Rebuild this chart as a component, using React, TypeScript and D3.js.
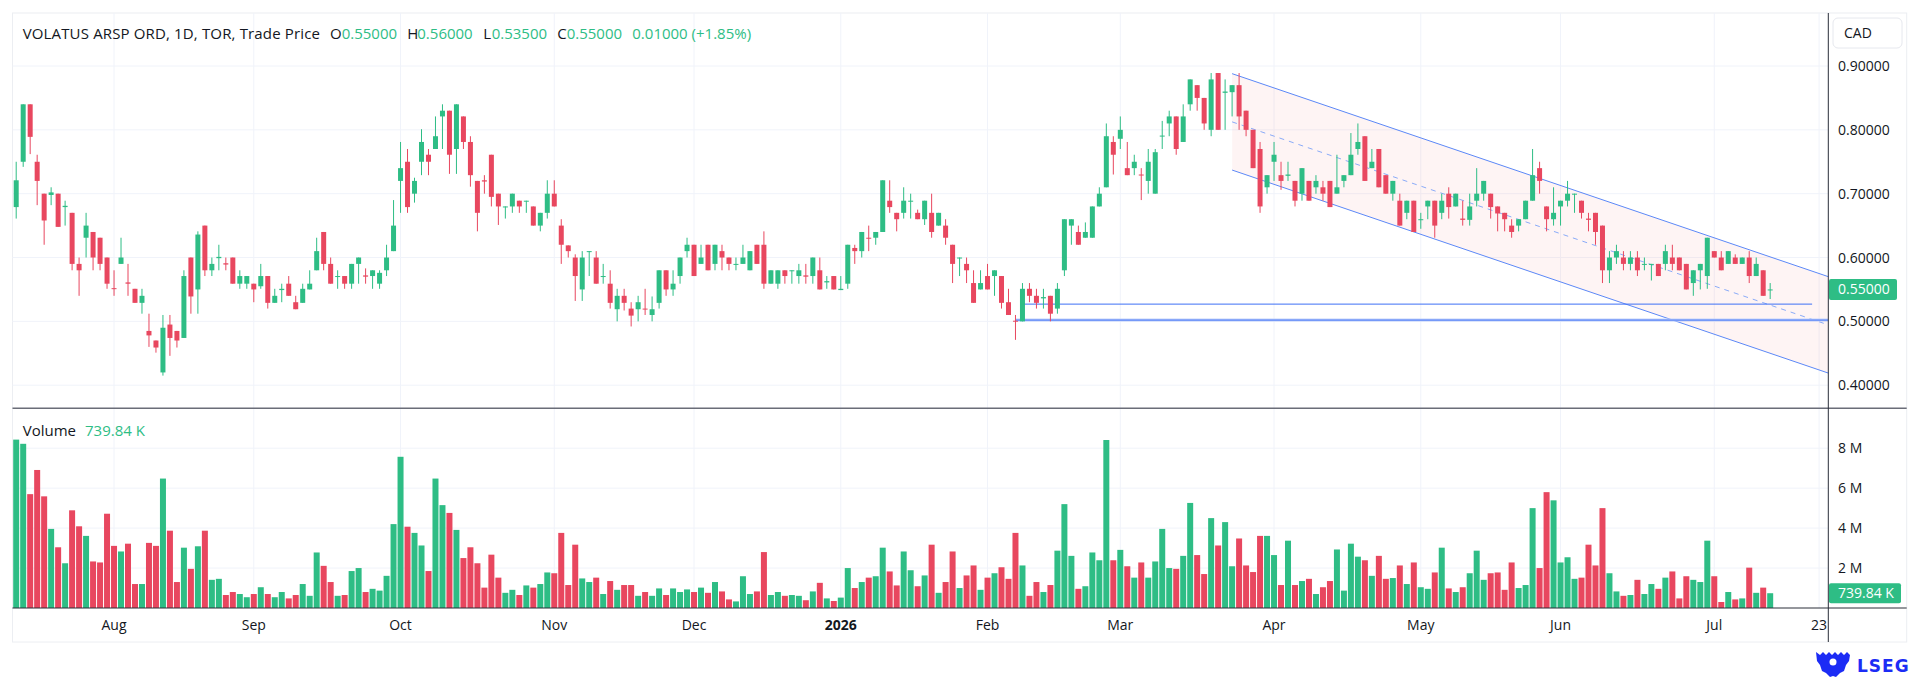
import React from "react";
import * as d3 from "d3";

// ---------- DATA ----------
const opens = [
  0.679, 0.75, 0.84, 0.75, 0.7, 0.698, 0.7, 0.679, 0.67, 0.59, 0.631, 0.64, 0.631, 0.6, 0.552, 0.59, 0.561, 0.551, 0.529, 0.485,
  0.47, 0.42, 0.495, 0.485, 0.474, 0.6, 0.55, 0.65, 0.58, 0.599, 0.591, 0.6, 0.559, 0.559, 0.559, 0.555, 0.571, 0.529, 0.549, 0.559,
  0.53, 0.529, 0.55, 0.58, 0.64, 0.59, 0.57, 0.571, 0.559, 0.59, 0.572, 0.571, 0.559, 0.58, 0.61, 0.72, 0.75, 0.7, 0.75, 0.761,
  0.77, 0.821, 0.83, 0.77, 0.821, 0.781, 0.72, 0.721, 0.761, 0.7, 0.679, 0.68, 0.689, 0.688, 0.68, 0.65, 0.67, 0.7, 0.65, 0.619,
  0.6, 0.55, 0.609, 0.6, 0.57, 0.559, 0.519, 0.54, 0.52, 0.519, 0.52, 0.51, 0.529, 0.58, 0.55, 0.571, 0.61, 0.62, 0.59, 0.62,
  0.59, 0.61, 0.6, 0.589, 0.59, 0.58, 0.62, 0.62, 0.559, 0.559, 0.58, 0.579, 0.571, 0.572, 0.571, 0.58, 0.561, 0.571, 0.549, 0.559,
  0.615, 0.61, 0.631, 0.631, 0.64, 0.689, 0.67, 0.67, 0.688, 0.67, 0.66, 0.67, 0.65, 0.65, 0.62, 0.599, 0.59, 0.56, 0.55, 0.571,
  0.571, 0.571, 0.53, 0.501, 0.5, 0.551, 0.54, 0.536, 0.54, 0.52, 0.58, 0.65, 0.64, 0.631, 0.631, 0.68, 0.71, 0.781, 0.786, 0.74,
  0.74, 0.73, 0.72, 0.7, 0.79, 0.81, 0.821, 0.781, 0.84, 0.87, 0.85, 0.8, 0.889, 0.858, 0.859, 0.87, 0.83, 0.8, 0.77, 0.71,
  0.75, 0.729, 0.728, 0.72, 0.7, 0.72, 0.71, 0.71, 0.72, 0.7, 0.72, 0.729, 0.77, 0.79, 0.74, 0.77, 0.729, 0.7, 0.689, 0.67,
  0.689, 0.659, 0.68, 0.689, 0.67, 0.7, 0.68, 0.661, 0.659, 0.689, 0.7, 0.7, 0.68, 0.67, 0.65, 0.65, 0.66, 0.689, 0.74, 0.68,
  0.66, 0.68, 0.689, 0.699, 0.689, 0.661, 0.67, 0.65, 0.58, 0.6, 0.6, 0.59, 0.6, 0.589, 0.589, 0.59, 0.59, 0.6, 0.6, 0.59,
  0.56, 0.58, 0.571, 0.61, 0.6, 0.59, 0.6, 0.59, 0.6, 0.571, 0.58, 0.55,
];
const highs = [
  0.75, 0.84, 0.84, 0.761, 0.7, 0.71, 0.7, 0.689, 0.67, 0.6, 0.67, 0.64, 0.631, 0.6, 0.58, 0.631, 0.59, 0.551, 0.551, 0.512,
  0.47, 0.51, 0.51, 0.485, 0.58, 0.6, 0.641, 0.65, 0.6, 0.62, 0.6, 0.6, 0.58, 0.571, 0.559, 0.59, 0.571, 0.551, 0.559, 0.571,
  0.54, 0.559, 0.58, 0.631, 0.64, 0.6, 0.58, 0.571, 0.59, 0.6, 0.583, 0.58, 0.58, 0.62, 0.69, 0.781, 0.77, 0.725, 0.801, 0.77,
  0.821, 0.84, 0.83, 0.84, 0.821, 0.79, 0.72, 0.729, 0.761, 0.7, 0.68, 0.7, 0.689, 0.689, 0.68, 0.67, 0.721, 0.721, 0.66, 0.619,
  0.605, 0.61, 0.61, 0.61, 0.59, 0.58, 0.551, 0.551, 0.53, 0.54, 0.551, 0.539, 0.58, 0.58, 0.58, 0.6, 0.631, 0.62, 0.62, 0.62,
  0.62, 0.62, 0.6, 0.6, 0.62, 0.61, 0.62, 0.641, 0.58, 0.58, 0.58, 0.58, 0.59, 0.59, 0.6, 0.6, 0.571, 0.571, 0.571, 0.62,
  0.62, 0.64, 0.65, 0.64, 0.721, 0.721, 0.67, 0.71, 0.7, 0.675, 0.689, 0.7, 0.67, 0.66, 0.62, 0.6, 0.6, 0.58, 0.58, 0.59,
  0.58, 0.571, 0.551, 0.51, 0.56, 0.56, 0.551, 0.551, 0.54, 0.56, 0.66, 0.66, 0.65, 0.655, 0.68, 0.71, 0.81, 0.79, 0.821, 0.781,
  0.761, 0.74, 0.77, 0.77, 0.814, 0.83, 0.821, 0.84, 0.879, 0.87, 0.85, 0.889, 0.889, 0.879, 0.87, 0.889, 0.83, 0.8, 0.781, 0.729,
  0.781, 0.75, 0.75, 0.72, 0.74, 0.72, 0.729, 0.72, 0.72, 0.761, 0.729, 0.795, 0.81, 0.79, 0.77, 0.77, 0.729, 0.72, 0.7, 0.689,
  0.689, 0.67, 0.689, 0.689, 0.7, 0.71, 0.7, 0.689, 0.7, 0.74, 0.72, 0.7, 0.68, 0.67, 0.66, 0.66, 0.689, 0.77, 0.75, 0.68,
  0.71, 0.689, 0.72, 0.7, 0.689, 0.67, 0.67, 0.65, 0.61, 0.62, 0.61, 0.61, 0.61, 0.6, 0.59, 0.59, 0.62, 0.62, 0.6, 0.59,
  0.58, 0.59, 0.631, 0.61, 0.61, 0.61, 0.605, 0.6, 0.61, 0.6, 0.58, 0.56,
];
const lows = [
  0.661, 0.742, 0.762, 0.682, 0.62, 0.682, 0.648, 0.65, 0.58, 0.54, 0.6, 0.58, 0.58, 0.551, 0.54, 0.59, 0.54, 0.529, 0.512, 0.46,
  0.451, 0.415, 0.446, 0.459, 0.474, 0.512, 0.512, 0.571, 0.571, 0.58, 0.58, 0.559, 0.551, 0.551, 0.53, 0.551, 0.52, 0.529, 0.53, 0.54,
  0.519, 0.529, 0.55, 0.58, 0.58, 0.559, 0.551, 0.551, 0.551, 0.559, 0.559, 0.551, 0.551, 0.571, 0.61, 0.67, 0.67, 0.686, 0.729, 0.729,
  0.77, 0.77, 0.731, 0.731, 0.77, 0.711, 0.641, 0.7, 0.68, 0.651, 0.661, 0.67, 0.67, 0.67, 0.65, 0.641, 0.661, 0.68, 0.59, 0.6,
  0.532, 0.532, 0.571, 0.559, 0.559, 0.52, 0.5, 0.517, 0.492, 0.5, 0.51, 0.5, 0.52, 0.54, 0.54, 0.559, 0.6, 0.571, 0.59, 0.58,
  0.58, 0.58, 0.58, 0.58, 0.59, 0.58, 0.59, 0.551, 0.559, 0.551, 0.559, 0.559, 0.559, 0.559, 0.559, 0.55, 0.551, 0.55, 0.549, 0.551,
  0.59, 0.6, 0.61, 0.62, 0.64, 0.67, 0.641, 0.661, 0.661, 0.66, 0.651, 0.631, 0.65, 0.62, 0.56, 0.571, 0.56, 0.529, 0.55, 0.55,
  0.54, 0.52, 0.51, 0.471, 0.5, 0.53, 0.52, 0.52, 0.5, 0.512, 0.571, 0.62, 0.62, 0.631, 0.631, 0.68, 0.71, 0.73, 0.77, 0.729,
  0.729, 0.69, 0.7, 0.7, 0.77, 0.79, 0.761, 0.781, 0.83, 0.83, 0.8, 0.79, 0.8, 0.8, 0.821, 0.8, 0.79, 0.74, 0.67, 0.7,
  0.72, 0.706, 0.72, 0.68, 0.689, 0.689, 0.7, 0.689, 0.679, 0.7, 0.71, 0.729, 0.761, 0.72, 0.74, 0.71, 0.7, 0.689, 0.65, 0.66,
  0.64, 0.645, 0.66, 0.631, 0.66, 0.661, 0.68, 0.65, 0.65, 0.68, 0.689, 0.661, 0.641, 0.641, 0.631, 0.641, 0.66, 0.689, 0.7, 0.641,
  0.65, 0.65, 0.68, 0.67, 0.661, 0.641, 0.62, 0.56, 0.56, 0.59, 0.58, 0.58, 0.571, 0.58, 0.564, 0.571, 0.58, 0.58, 0.58, 0.55,
  0.54, 0.55, 0.551, 0.6, 0.58, 0.59, 0.59, 0.59, 0.56, 0.571, 0.54, 0.535,
];
const closes = [
  0.721, 0.84, 0.789, 0.72, 0.658, 0.702, 0.648, 0.681, 0.59, 0.58, 0.65, 0.6, 0.59, 0.559, 0.551, 0.6, 0.559, 0.529, 0.54, 0.478,
  0.459, 0.49, 0.474, 0.47, 0.571, 0.539, 0.636, 0.58, 0.59, 0.601, 0.589, 0.559, 0.571, 0.571, 0.55, 0.571, 0.529, 0.54, 0.551, 0.54,
  0.519, 0.551, 0.559, 0.61, 0.59, 0.559, 0.571, 0.559, 0.59, 0.6, 0.57, 0.58, 0.576, 0.6, 0.65, 0.74, 0.679, 0.72, 0.781, 0.75,
  0.79, 0.83, 0.761, 0.84, 0.781, 0.729, 0.67, 0.719, 0.695, 0.68, 0.68, 0.7, 0.68, 0.689, 0.65, 0.67, 0.7, 0.68, 0.62, 0.61,
  0.571, 0.6, 0.61, 0.559, 0.571, 0.529, 0.54, 0.529, 0.509, 0.53, 0.519, 0.519, 0.58, 0.55, 0.559, 0.6, 0.62, 0.571, 0.6, 0.58,
  0.62, 0.6, 0.59, 0.59, 0.6, 0.61, 0.59, 0.559, 0.58, 0.58, 0.571, 0.58, 0.58, 0.57, 0.6, 0.55, 0.563, 0.55, 0.551, 0.62,
  0.61, 0.64, 0.63, 0.64, 0.721, 0.679, 0.66, 0.689, 0.689, 0.66, 0.689, 0.64, 0.67, 0.631, 0.59, 0.6, 0.58, 0.529, 0.56, 0.55,
  0.58, 0.529, 0.51, 0.5, 0.551, 0.54, 0.529, 0.538, 0.512, 0.551, 0.66, 0.66, 0.62, 0.64, 0.68, 0.7, 0.79, 0.761, 0.8, 0.729,
  0.75, 0.729, 0.75, 0.765, 0.791, 0.821, 0.77, 0.821, 0.879, 0.85, 0.81, 0.879, 0.8, 0.86, 0.87, 0.821, 0.8, 0.74, 0.68, 0.729,
  0.761, 0.72, 0.73, 0.689, 0.74, 0.689, 0.72, 0.7, 0.679, 0.71, 0.729, 0.761, 0.781, 0.72, 0.75, 0.71, 0.7, 0.72, 0.65, 0.689,
  0.64, 0.66, 0.689, 0.65, 0.689, 0.679, 0.7, 0.659, 0.68, 0.7, 0.72, 0.679, 0.669, 0.66, 0.64, 0.66, 0.689, 0.729, 0.72, 0.66,
  0.67, 0.689, 0.7, 0.7, 0.67, 0.659, 0.64, 0.58, 0.6, 0.61, 0.59, 0.6, 0.58, 0.59, 0.59, 0.571, 0.61, 0.59, 0.58, 0.55,
  0.58, 0.59, 0.631, 0.6, 0.58, 0.61, 0.59, 0.6, 0.571, 0.59, 0.54, 0.55,
];
// volume in millions of shares
const volumes = [
  8.43, 8.22, 5.7, 6.91, 5.59, 3.96, 3.04, 2.24, 4.89, 4.09, 3.61, 2.33, 2.28, 4.72, 3.11, 2.83, 3.22, 1.2, 1.2, 3.26,
  3.11, 6.48, 3.87, 1.3, 3.02, 1.96, 3.09, 3.87, 1.41, 1.46, 0.65, 0.8, 0.7, 0.54, 0.7, 1.04, 0.7, 0.54, 0.8, 0.48,
  0.65, 1.2, 0.61, 2.78, 2.11, 1.3, 0.61, 0.65, 1.85, 2.0, 0.8, 0.96, 0.87, 1.61, 4.2, 7.57, 4.07, 3.76, 3.13, 1.85,
  6.48, 5.15, 4.76, 3.91, 2.5, 3.04, 2.24, 1.02, 2.67, 1.52, 0.76, 0.91, 0.65, 1.13, 1.02, 1.2, 1.78, 1.74, 3.76, 1.15,
  3.17, 1.48, 1.3, 1.52, 0.7, 1.35, 0.91, 1.15, 1.15, 0.61, 0.8, 0.61, 0.98, 0.65, 0.98, 0.8, 0.93, 0.8, 1.02, 0.76,
  1.3, 0.83, 0.43, 0.33, 1.59, 0.7, 0.83, 2.8, 0.65, 0.8, 0.61, 0.65, 0.61, 0.39, 0.83, 1.26, 0.48, 0.35, 0.52, 2.0,
  1.0, 1.3, 1.52, 1.59, 3.02, 1.83, 1.13, 2.83, 1.89, 1.09, 1.63, 3.17, 0.76, 1.3, 2.83, 1.0, 1.63, 2.13, 0.91, 1.52,
  1.74, 2.04, 1.46, 3.76, 2.13, 0.61, 1.3, 0.8, 1.15, 2.87, 5.2, 2.61, 0.96, 1.09, 2.78, 2.39, 8.41, 2.39, 2.91, 2.09,
  1.52, 2.28, 1.52, 2.33, 3.96, 2.0, 1.96, 2.61, 5.26, 2.65, 1.7, 4.5, 3.13, 4.3, 2.09, 3.48, 2.13, 1.8, 3.61, 3.61,
  2.65, 1.15, 3.37, 1.15, 1.35, 1.46, 0.7, 1.04, 1.35, 2.93, 0.87, 3.22, 2.57, 2.39, 1.61, 2.61, 1.46, 1.5, 2.13, 1.2,
  2.28, 1.04, 0.96, 1.78, 3.02, 0.98, 0.8, 1.04, 1.74, 2.87, 1.41, 1.74, 1.78, 0.91, 2.28, 1.0, 1.15, 5.0, 2.0, 5.8,
  5.39, 2.28, 2.54, 1.46, 1.52, 3.17, 2.13, 5.0, 1.74, 0.83, 0.61, 0.65, 1.41, 0.7, 1.2, 0.96, 1.52, 1.83, 0.48, 1.59,
  1.41, 1.3, 3.37, 1.59, 0.3, 0.8, 0.43, 0.48, 2.02, 0.76, 1.02, 0.73984,
];

// time axis: label text and the bar index (trading day) it sits on
const timeTickLabels = ["Aug", "Sep", "Oct", "Nov", "Dec", "2026", "Feb", "Mar", "Apr", "May", "Jun", "Jul", "23"];
const timeTickIndex = [14, 34, 55, 77, 97, 118, 139, 158, 180, 201, 221, 243, 258];
const priceTicks = [0.4, 0.5, 0.6, 0.7, 0.8, 0.9];
const volumeTicks = [2, 4, 6, 8];

// drawings
const channelStartBar = 174;
const channelEndBar = 251;
const channelTopStart = 0.888;
const channelTopEnd = 0.601;
const channelHeight = 0.151;
const hLineBars = [
  [144, 257],
  [143, 259.3],
];
const hLinePrices = [0.527, 0.502];

const lastPrice = 0.55;
const lastVolumeText = "739.84 K";

// ---------- STYLE ----------
const UP = "#2ebd85";
const DOWN = "#e8475f";
const TEXT = "#131722";
const GRID = "#f0f3fa";
const FONT = "'Open Sans', 'Noto Sans', sans-serif";

export default function App() {
  const W = 1920;
  const H = 681;
  const left = 12.5;
  const right = 1828.3;
  const outerRight = 1906.7;
  const top = 13;
  const sep = 408.3;
  const volBase = 608;
  const bottom = 642;

  const x = d3.scaleLinear().domain([0, 258]).range([16.2, 1819.1]);
  const yP = d3.scaleLinear().domain([0.4, 0.9]).range([385.2, 66]);
  const yV = d3.scaleLinear().domain([0, 8]).range([volBase, 448.2]);

  const n = closes.length;
  const isUp = (i: number) =>
    closes[i] > opens[i] || (closes[i] === opens[i] && (i === 0 || closes[i] >= closes[i - 1]));

  const bodyW = 5;
  const volW = 6;

  // channel geometry
  const slope = (channelTopEnd - channelTopStart) / (channelEndBar - channelStartBar);
  const endBar = x.invert(right);
  const topAt = (b: number) => channelTopStart + (b - channelStartBar) * slope;
  const line = d3
    .line<[number, number]>()
    .x((d) => x(d[0]))
    .y((d) => yP(d[1]));
  const topLine = line([
    [channelStartBar, topAt(channelStartBar)],
    [endBar, topAt(endBar)],
  ]);
  const botLine = line([
    [channelStartBar, topAt(channelStartBar) - channelHeight],
    [endBar, topAt(endBar) - channelHeight],
  ]);
  const midLine = line([
    [channelStartBar, topAt(channelStartBar) - channelHeight / 2],
    [endBar, topAt(endBar) - channelHeight / 2],
  ]);
  const fillPath = d3
    .area<number>()
    .x((b) => x(b))
    .y0((b) => yP(topAt(b) - channelHeight))
    .y1((b) => yP(topAt(b)))([channelStartBar, endBar]);

  const fmt = d3.format(".5f");
  const HF = 15;

  return (
    <div style={{ position: "fixed", left: 0, top: 0, width: W, height: H, overflow: "hidden", background: "#fff" }}>
      <svg width={W} height={H} style={{ display: "block", fontFamily: FONT }}>
        <rect x={0} y={0} width={W} height={H} fill="#fff" />
        {/* outer frame */}
        <rect x={left} y={top} width={outerRight - left} height={bottom - top} fill="none" stroke="#eceef2" strokeWidth={1} />

        {/* grid */}
        {priceTicks.map((p) => (
          <line key={"pg" + p} x1={left} x2={right} y1={yP(p)} y2={yP(p)} stroke={GRID} strokeWidth={1} />
        ))}
        {volumeTicks.map((v) => (
          <line key={"vg" + v} x1={left} x2={right} y1={yV(v)} y2={yV(v)} stroke={GRID} strokeWidth={1} />
        ))}
        {timeTickIndex.map((b, k) => (
          <line key={"tg" + k} x1={x(b)} x2={x(b)} y1={top} y2={volBase} stroke={GRID} strokeWidth={1} />
        ))}

        {/* channel drawing */}
        <path d={fillPath || ""} fill="rgba(242,120,120,0.08)" />
        <path d={topLine || ""} stroke="#5c88f7" strokeWidth={1} fill="none" />
        <path d={botLine || ""} stroke="#5c88f7" strokeWidth={1} fill="none" />
        <path d={midLine || ""} stroke="#8aabf8" strokeWidth={1} strokeDasharray="5,5" fill="none" />

        {/* horizontal lines */}
        {hLinePrices.map((p, k) => (
          <g key={"hl" + k}>
            {k === 1 && (
              <line x1={x(hLineBars[k][0])} x2={x(hLineBars[k][1])} y1={yP(p)} y2={yP(p)} stroke="#c3d3fc" strokeWidth={3} />
            )}
            <line x1={x(hLineBars[k][0])} x2={x(hLineBars[k][1])} y1={yP(p)} y2={yP(p)} stroke="#3d6ff5" strokeWidth={1} />
          </g>
        ))}

        {/* candles */}
        {d3.range(n).map((i) => {
          const c = isUp(i) ? UP : DOWN;
          const cx = x(i);
          const yo = yP(opens[i]);
          const yc = yP(closes[i]);
          const yt = Math.min(yo, yc);
          const bh = Math.max(1, Math.abs(yo - yc));
          return (
            <g key={"c" + i}>
              <line x1={cx} x2={cx} y1={yP(highs[i])} y2={yP(lows[i])} stroke={c} strokeWidth={1} />
              <rect x={cx - bodyW / 2} y={yt} width={bodyW} height={bh} fill={c} />
            </g>
          );
        })}

        {/* volume */}
        {d3.range(n).map((i) => (
          <rect
            key={"v" + i}
            x={x(i) - volW / 2}
            y={yV(volumes[i])}
            width={volW}
            height={volBase - yV(volumes[i])}
            fill={isUp(i) ? UP : DOWN}
          />
        ))}

        {/* separators and axis lines */}
        <line x1={left} x2={outerRight} y1={sep} y2={sep} stroke="#6a6d78" strokeWidth={1.5} />
        <line x1={left} x2={outerRight} y1={volBase} y2={volBase} stroke="#2a2e39" strokeWidth={1} />
        <line x1={right} x2={right} y1={top} y2={bottom} stroke="#2a2e39" strokeWidth={1} />

        {/* header */}
        <text x={22.7} y={38.5} fontSize={HF} fill={TEXT} letterSpacing={0.15}>
          VOLATUS ARSP ORD, 1D, TOR, Trade Price
        </text>
        <text x={330} y={38.5} fontSize={HF} fill={TEXT}>O</text>
        <text x={341.7} y={38.5} fontSize={HF} fill={UP}>0.55000</text>
        <text x={407.3} y={38.5} fontSize={HF} fill={TEXT}>H</text>
        <text x={417.3} y={38.5} fontSize={HF} fill={UP}>0.56000</text>
        <text x={483.3} y={38.5} fontSize={HF} fill={TEXT}>L</text>
        <text x={491.7} y={38.5} fontSize={HF} fill={UP}>0.53500</text>
        <text x={557.3} y={38.5} fontSize={HF} fill={TEXT}>C</text>
        <text x={566.7} y={38.5} fontSize={HF} fill={UP}>0.55000</text>
        <text x={632.3} y={38.5} fontSize={HF} fill={UP}>0.01000 (+1.85%)</text>

        <text x={22.7} y={435.5} fontSize={HF} fill={TEXT}>Volume</text>
        <text x={85} y={435.5} fontSize={HF} fill={UP}>739.84 K</text>

        {/* price axis */}
        <rect x={1833} y={18} width={69} height={30} rx={5} fill="#fff" stroke="#e6e8ee" />
        <text x={1844} y={38} fontSize={14} fill={TEXT}>CAD</text>
        {priceTicks.map((p) => (
          <text key={"pl" + p} x={1838} y={yP(p) + 5} fontSize={14} fill={TEXT}>
            {fmt(p)}
          </text>
        ))}
        <rect x={1829} y={yP(lastPrice) - 10.5} width={68} height={21} rx={2} fill={UP} />
        <text x={1838} y={yP(lastPrice) + 5} fontSize={14} fill="#fff">
          {fmt(lastPrice)}
        </text>

        {/* volume axis */}
        {volumeTicks.map((v) => (
          <text key={"vl" + v} x={1838} y={yV(v) + 5} fontSize={14} fill={TEXT}>
            {v + " M"}
          </text>
        ))}
        <rect x={1829} y={yV(volumes[n - 1]) - 10} width={72} height={20} rx={2} fill={UP} />
        <text x={1838} y={yV(volumes[n - 1]) + 5} fontSize={14} fill="#fff">
          {lastVolumeText}
        </text>

        {/* time axis */}
        {timeTickIndex.map((b, k) => (
          <text
            key={"tl" + k}
            x={x(b)}
            y={630}
            fontSize={14}
            textAnchor="middle"
            fontWeight={timeTickLabels[k] === "2026" ? 700 : 400}
            fill={TEXT}
          >
            {timeTickLabels[k]}
          </text>
        ))}

        {/* LSEG logo */}
        <g fill="#1c2cf5">
          <path d="M1816,652 l4,3 l3,-3 l3,3 l3,-3 l3,3 l3,-3 l3,3 l3,-3 l3,3 l3,-3 l3,3 l-1,6 l-3,4 l-2,6 l-4,2 l-4,4 l-3,-1 l-3,1 l-4,-4 l-4,-2 l-2,-6 l-3,-4 z" />
          <circle cx={1833} cy={662} r={3.5} fill="#fff" />
          <text x={1857} y={672} fontSize={17} fontWeight={700} fontFamily="'DejaVu Sans', sans-serif" letterSpacing={1}>
            LSEG
          </text>
        </g>
      </svg>
    </div>
  );
}
